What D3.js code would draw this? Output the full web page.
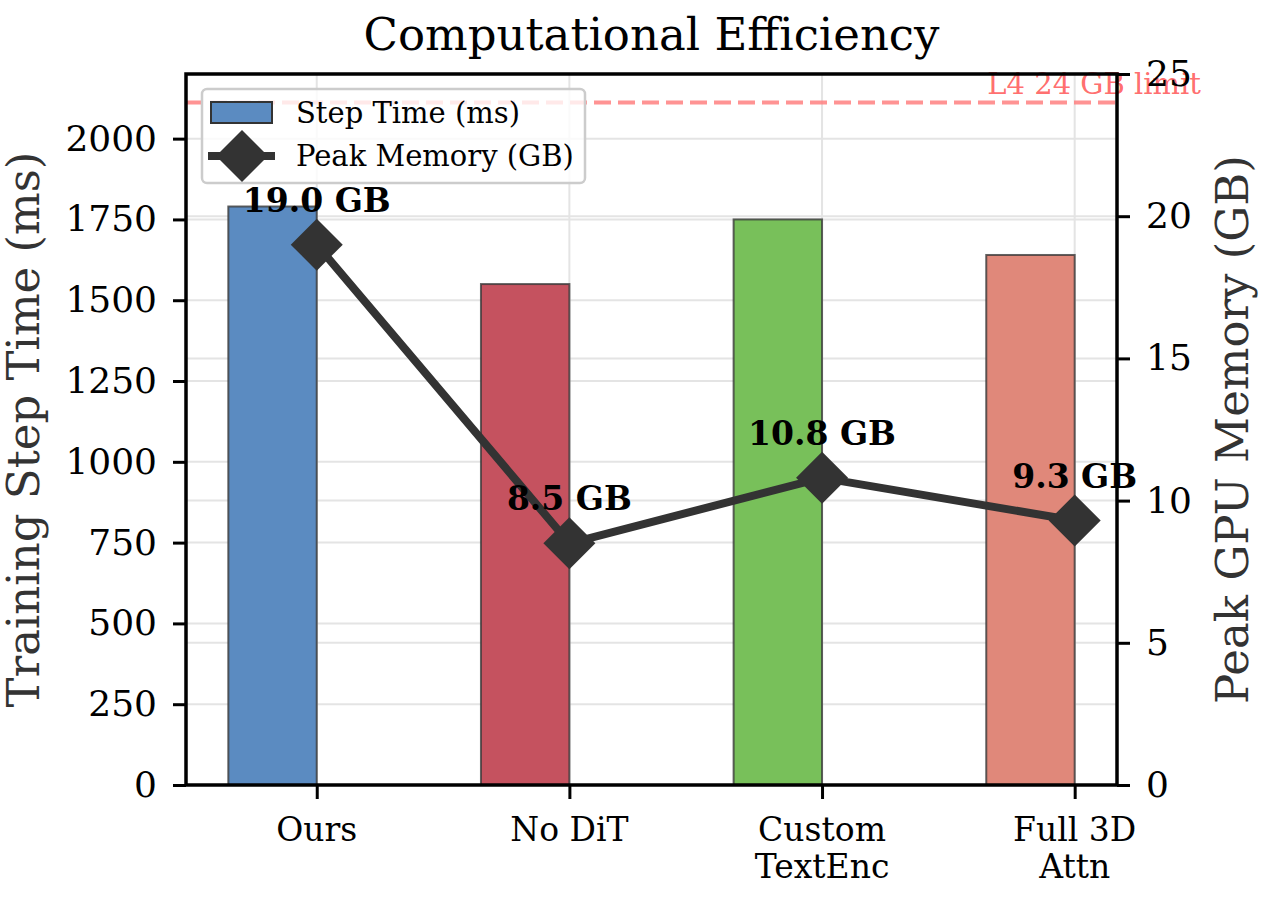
<!DOCTYPE html>
<html>
<head>
<meta charset="utf-8">
<script src="https://cdn.jsdelivr.net/npm/d3@7"></script>
<style>
  body { margin: 0; background: #fff; }
  text { font-family: "DejaVu Serif", serif; }
</style>
</head>
<body>
<div id="chart"></div>
<script>
// data
var categories = ["Ours", "No DiT", "Custom\nTextEnc", "Full 3D\nAttn"];
var stepTime = [1790, 1550, 1750, 1640];
var peakMem = [19.0, 8.5, 10.8, 9.3];
var barColors = ["#5b8bc1", "#c5525f", "#78c05a", "#e0887a"];
var leftTicks = [0, 250, 500, 750, 1000, 1250, 1500, 1750, 2000];
var rightTicks = [0, 5, 10, 15, 20, 25];
var memLimit = 24;

var svgWidth = 1272;
var svgHeight = 900;

var margin = { top: 74, right: 155, bottom: 115, left: 186 };
var chartWidth = svgWidth - margin.left - margin.right;
var chartHeight = svgHeight - margin.top - margin.bottom;

var svg = d3.select("#chart")
  .append("svg")
  .attr("width", svgWidth)
  .attr("height", svgHeight);

var chartGroup = svg.append("g")
  .attr("transform", `translate(${margin.left}, ${margin.top})`);

// numeric x like matplotlib, bars shifted left by half width
var barW = 0.35;
var xScale = d3.scaleLinear()
  .domain([-0.5175, 3.1675])
  .range([0, chartWidth]);

var yLeft = d3.scaleLinear().domain([0, 2200]).range([chartHeight, 0]);
var yRight = d3.scaleLinear().domain([0, 25]).range([chartHeight, 0]);

// grid
var grid = chartGroup.append("g");
grid.selectAll(".gl").data(leftTicks).enter().append("line")
  .attr("x1", 0).attr("x2", chartWidth)
  .attr("y1", d => yLeft(d)).attr("y2", d => yLeft(d))
  .attr("stroke", "#e4e4e4").attr("stroke-width", 2);
grid.selectAll(".gr").data(rightTicks).enter().append("line")
  .attr("x1", 0).attr("x2", chartWidth)
  .attr("y1", d => yRight(d)).attr("y2", d => yRight(d))
  .attr("stroke", "#e4e4e4").attr("stroke-width", 2);
grid.selectAll(".gx").data(categories).enter().append("line")
  .attr("x1", (d, i) => xScale(i)).attr("x2", (d, i) => xScale(i))
  .attr("y1", 0).attr("y2", chartHeight)
  .attr("stroke", "#e4e4e4").attr("stroke-width", 2);

// bars
chartGroup.selectAll("rect.bar")
  .data(stepTime)
  .enter()
  .append("rect")
  .attr("class", "bar")
  .attr("x", (d, i) => xScale(i - barW))
  .attr("y", d => yLeft(d))
  .attr("width", xScale(barW) - xScale(0))
  .attr("height", d => chartHeight - yLeft(d))
  .attr("fill", (d, i) => barColors[i])
  .attr("stroke", "#3a3a3a")
  .attr("stroke-opacity", 0.8)
  .attr("stroke-width", 2);

// limit line
chartGroup.append("line")
  .attr("x1", 0).attr("x2", chartWidth)
  .attr("y1", yRight(memLimit)).attr("y2", yRight(memLimit))
  .attr("stroke", "#ff8080").attr("stroke-opacity", 0.85)
  .attr("stroke-width", 4)
  .attr("stroke-dasharray", "17,7");

chartGroup.append("text")
  .attr("x", xScale(3.5))
  .attr("y", yRight(memLimit) - 8)
  .attr("text-anchor", "end")
  .attr("font-size", "29px")
  .attr("fill", "#ff5c5c")
  .attr("fill-opacity", 0.9)
  .text("L4 " + memLimit + " GB limit");

// memory line
var line = d3.line()
  .x((d, i) => xScale(i))
  .y(d => yRight(d));

chartGroup.append("path")
  .attr("d", line(peakMem))
  .attr("fill", "none")
  .attr("stroke", "#333333")
  .attr("stroke-width", 8)
  .attr("stroke-linejoin", "round");

var diamond = "M0,-26L26,0L0,26L-26,0Z";
chartGroup.selectAll("path.mk")
  .data(peakMem)
  .enter()
  .append("path")
  .attr("class", "mk")
  .attr("d", diamond)
  .attr("transform", (d, i) => `translate(${xScale(i)}, ${yRight(d)})`)
  .attr("fill", "#333333");

chartGroup.selectAll("text.ml")
  .data(peakMem)
  .enter()
  .append("text")
  .attr("class", "ml")
  .attr("x", (d, i) => xScale(i))
  .attr("y", d => yRight(d) - 33)
  .attr("text-anchor", "middle")
  .attr("font-size", "33px")
  .attr("font-weight", "bold")
  .attr("fill", "#000")
  .text(d => d.toFixed(1) + " GB");

// axes
var leftAxis = chartGroup.append("g")
  .call(d3.axisLeft(yLeft).tickValues(leftTicks).tickFormat(d3.format("d")).tickSize(13).tickPadding(16));
var rightAxis = chartGroup.append("g")
  .attr("transform", `translate(${chartWidth}, 0)`)
  .call(d3.axisRight(yRight).tickValues(rightTicks).tickFormat(d3.format("d")).tickSize(13).tickPadding(16));
var bottomAxis = chartGroup.append("g")
  .attr("transform", `translate(0, ${chartHeight})`)
  .call(d3.axisBottom(xScale).tickValues([0, 1, 2, 3]).tickSize(14).tickFormat(""));

[leftAxis, rightAxis, bottomAxis].forEach(function(ax) {
  ax.select(".domain").remove();
  ax.selectAll("line").attr("stroke", "#000").attr("stroke-width", 3);
  ax.selectAll("text").attr("font-size", "36px").attr("fill", "#000")
    .attr("font-family", "DejaVu Serif");
});

// x tick labels, two lines
var xLabels = chartGroup.append("g");
categories.forEach(function(c, i) {
  var t = xLabels.append("text")
    .attr("x", xScale(i))
    .attr("y", chartHeight + 56)
    .attr("text-anchor", "middle")
    .attr("font-size", "33px")
    .attr("fill", "#000");
  c.split("\n").forEach(function(part, j) {
    t.append("tspan").attr("x", xScale(i)).attr("dy", j === 0 ? 0 : 37).text(part);
  });
});

// frame
chartGroup.append("rect")
  .attr("x", 0).attr("y", 0)
  .attr("width", chartWidth).attr("height", chartHeight)
  .attr("fill", "none").attr("stroke", "#000").attr("stroke-width", 3.5);

// labels
svg.append("text")
  .attr("x", margin.left + chartWidth / 2)
  .attr("y", 50)
  .attr("text-anchor", "middle")
  .attr("font-size", "45px")
  .attr("fill", "#000")
  .text("Computational Efficiency");

svg.append("text")
  .attr("transform", `translate(39, ${margin.top + chartHeight / 2}) rotate(-90)`)
  .attr("text-anchor", "middle")
  .attr("font-size", "45px")
  .attr("fill", "#333")
  .text("Training Step Time (ms)");

svg.append("text")
  .attr("transform", `translate(1248, ${margin.top + chartHeight / 2}) rotate(-90)`)
  .attr("text-anchor", "middle")
  .attr("font-size", "45px")
  .attr("fill", "#333")
  .text("Peak GPU Memory (GB)");

// legend
var legend = chartGroup.append("g")
  .attr("transform", "translate(16, 15)");
legend.append("rect")
  .attr("width", 383).attr("height", 94)
  .attr("rx", 5)
  .attr("fill", "#fff").attr("fill-opacity", 0.8)
  .attr("stroke", "#cccccc").attr("stroke-width", 2.5);
legend.append("rect")
  .attr("x", 9).attr("y", 13)
  .attr("width", 61).attr("height", 21)
  .attr("fill", barColors[0])
  .attr("stroke", "#333").attr("stroke-width", 2);
legend.append("line")
  .attr("x1", 6).attr("x2", 73).attr("y1", 67).attr("y2", 67)
  .attr("stroke", "#333").attr("stroke-width", 8);
legend.append("path")
  .attr("d", diamond)
  .attr("transform", "translate(40, 67)")
  .attr("fill", "#333");
legend.append("text")
  .attr("x", 94).attr("y", 34)
  .attr("font-size", "29px").attr("fill", "#000")
  .text("Step Time (ms)");
legend.append("text")
  .attr("x", 94).attr("y", 77)
  .attr("font-size", "29px").attr("fill", "#000")
  .text("Peak Memory (GB)");
</script>
</body>
</html>
